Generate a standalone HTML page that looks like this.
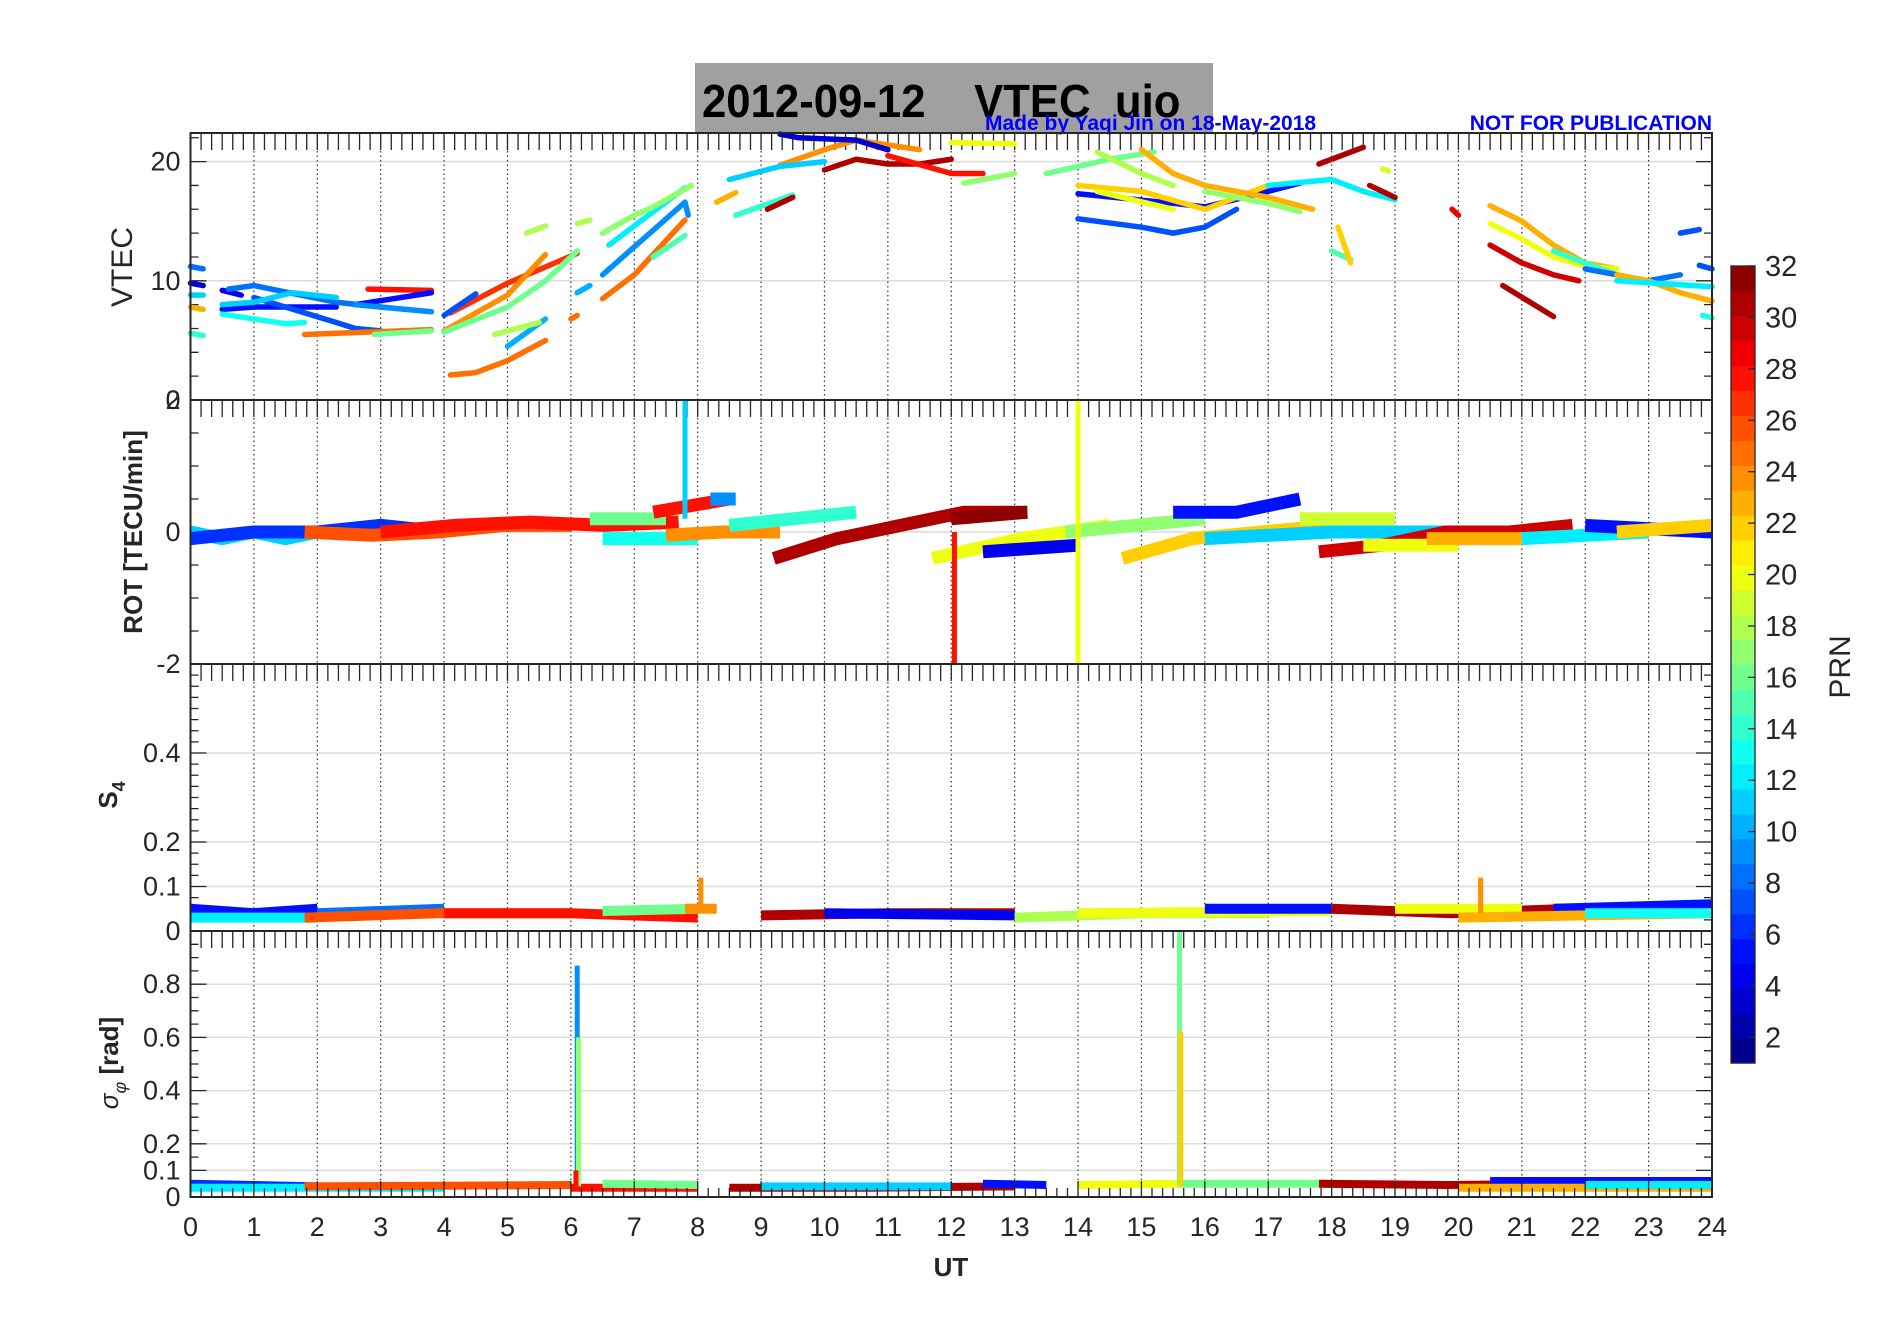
<!DOCTYPE html>
<html><head><meta charset="utf-8"><style>
html,body{margin:0;padding:0;background:#fff;}
svg{display:block;font-family:"Liberation Sans",Arial,sans-serif;}
</style></head><body>
<svg id="fig" width="1902" height="1330" viewBox="0 0 1902 1330" xmlns="http://www.w3.org/2000/svg">
<rect x="0" y="0" width="1902" height="1330" fill="#fff"/>
<rect x="695" y="63" width="518" height="70" fill="#a0a0a0"/>
<text x="702" y="117" font-size="46" font-weight="bold" fill="#000" style="white-space:pre" transform="translate(702,0) scale(0.95,1) translate(-702,0)">2012-09-12    VTEC  uio</text>
<text x="985" y="130" font-size="21" font-weight="bold" fill="#0000ff">Made by Yaqi Jin on 18-May-2018</text>
<text x="1712" y="130" font-size="21" font-weight="bold" fill="#0000ff" text-anchor="end">NOT FOR PUBLICATION</text>
<g id="plots"></g>
</svg>
<script>
// ---------- data ----------
const hourTicks=[0,1,2,3,4,5,6,7,8,9,10,11,12,13,14,15,16,17,18,19,20,21,22,23,24];
const vtecTicks=[0,10,20];
const rotTicks=[-2,0,2];
const s4Ticks=[0,0.1,0.2,0.4];
const sigTicks=[0,0.1,0.2,0.4,0.6,0.8];
const cbTicks=[2,4,6,8,10,12,14,16,18,20,22,24,26,28,30,32];
// VTEC segments: [prn, [[hour,value],...]]
const vtecSeries=[
[8,[[0,11.2],[0.2,11]]],[3,[[0,9.8],[0.2,9.6]]],[11,[[0,8.8],[0.2,8.8]]],[23,[[0,7.8],[0.2,7.6]]],[14,[[0,5.6],[0.2,5.4]]],
[4,[[0.5,9.2],[0.8,8.8]]],[5,[[0.5,7.6],[1,7.8],[2.3,7.8]]],[8,[[0.6,9.3],[1,9.6],[2.3,8.2],[3,7.8]]],
[7,[[1,8.6],[2.3,6.5],[2.6,6.0],[3,5.8]]],[11,[[0.5,8],[1,8.2],[1.6,9],[2.3,8.6]]],[13,[[0.5,7.2],[1,6.8],[1.5,6.4],[1.8,6.5]]],
[25,[[1.8,5.5],[3.8,5.9]]],[16,[[2.9,5.5],[3.8,5.8]]],[28,[[2.8,9.3],[3.8,9.2]]],[5,[[2.6,8],[3.8,9]]],[9,[[2.6,8],[3.8,7.4]]],
[27,[[4.1,7.3],[5,9.8],[6.1,12.3]]],[24,[[4,5.8],[5,8.8],[5.6,12.2]]],[16,[[4,5.7],[5,7.8],[5.6,10],[6.1,12.5]]],[7,[[4,7.1],[4.5,8.9]]],
[25,[[4.1,2.1],[4.5,2.3],[5,3.3],[5.6,5]]],[25,[[6,6.8],[6.1,7.1]]],[25,[[6.5,8.5],[7,10.5],[7.8,15.1]]],
[9,[[6.5,10.5],[7.8,16.6],[7.85,15.5]]],[12,[[6.6,13],[7.8,17.8]]],[17,[[6.5,14],[7,15.5],[7.3,16.2],[7.9,18]]],[15,[[7.3,12],[7.8,13.8]]],
[18,[[5.3,14],[5.6,14.6]]],[18,[[6.1,14.8],[6.3,15.1]]],[10,[[5,4.5],[5.6,6.8]]],[10,[[6.1,9],[6.3,9.6]]],[18,[[4.8,5.5],[5.5,6.5]]],
[23,[[8.3,16.6],[8.6,17.4]]],[14,[[8.6,15.5],[9.5,17.2]]],[24,[[9.3,19.7],[10,21],[10.5,21.8],[11,21.4],[11.5,21]]],
[11,[[8.5,18.5],[9.3,19.6],[10,20]]],[31,[[10,19.3],[10.5,20.2],[11,19.8],[11.5,19.8],[12,20.2]]],[28,[[11,20.5],[12,19],[12.5,19]]],
[3,[[9.3,22.3],[9.6,22],[10.5,21.8],[11,21]]],[31,[[9.1,16],[9.5,17]]],[20,[[12,21.6],[13,21.5]]],[17,[[12.2,18.2],[13,19]]],
[16,[[13.5,19],[14.5,20.2],[15.2,20.8]]],[18,[[14.3,20.8],[15,19],[15.5,18]]],[5,[[14,17.3],[15.5,16.5],[16,16.2],[17,17.5],[17.5,18.2]]],
[7,[[14,15.2],[15,14.5],[15.5,14],[16,14.5],[16.5,16]]],[22,[[14,18],[15,17.5],[16,16],[17,18]]],[20,[[14.3,17.5],[15.5,16]]],
[23,[[15,21],[15.5,19],[16,18],[17,17],[17.7,16]]],[17,[[16,17.5],[17,16.5],[17.5,15.8]]],[12,[[17,18],[18,18.5],[18.5,17.5],[19,16.8]]],
[31,[[17.8,19.8],[18.5,21.2]]],[31,[[18.6,18],[19,17]]],[15,[[18,12.5],[18.3,11.8]]],[22,[[18.1,14.5],[18.3,11.5]]],[19,[[18.8,19.4],[18.9,19.2]]],
[29,[[19.9,16],[20,15.5]]],[23,[[20.5,16.3],[21,15],[21.5,13],[22,11.5],[22.5,11]]],[20,[[20.5,14.8],[21,13.5],[21.5,12],[22,11.2],[22.5,11]]],
[14,[[21.5,12.5],[22,11.5],[22.5,10.5]]],[30,[[20.5,13],[21,11.5],[21.5,10.5],[21.9,10]]],[31,[[20.7,9.6],[21.5,7]]],
[8,[[22,11],[22.5,10.5],[23,10],[23.5,10.5]]],[23,[[22.5,10.5],[23,10],[23.5,9],[24,8.3]]],[12,[[22.5,10],[24,9.5]]],
[7,[[23.5,14],[23.8,14.3]]],[7,[[23.8,11.3],[24,11]]],[13,[[23.85,7.1],[24,6.9]]]
];
// ROT bands: [prn, start hour, end hour, values evenly spaced]
const rotBands=[
[11,0,2,[0,-0.1,0,-0.1,0]],[6,0,4,[-0.1,0,0,0.1,0]],[26,1.8,6,[0,-0.05,0,0.1,0.1]],[28,3,7.7,[0,0.1,0.15,0.1,0.15]],
[16,6.3,7.5,[0.2,0.2]],[13,6.5,8,[-0.1,-0.1]],[24,7.5,9.3,[-0.05,0,0]],[28,7.3,8.5,[0.3,0.4,0.5]],[9,8.2,8.6,[0.5,0.5]],
[14,8.5,10.5,[0.1,0.2,0.3]],[31,9.2,13.2,[-0.4,-0.1,0.1,0.3,0.3]],[32,12,13.2,[0.2,0.3]],[20,11.7,14.5,[-0.4,-0.1,0.1]],
[4,12.5,14,[-0.3,-0.2]],[17,13.8,16,[0,0.1,0.2]],[22,14.7,18,[-0.4,-0.1,0,0.1]],[5,15.5,17.5,[0.3,0.3,0.5]],
[19,17.5,19,[0.2,0.2]],[11,16,20,[-0.1,0,0]],[30,17.8,21.8,[-0.3,-0.2,0,0,0.1]],[20,18.5,20,[-0.2,-0.2]],
[23,19.5,21,[-0.1,-0.1]],[12,21,23,[-0.1,0]],[5,22,24,[0.1,0]],[22,22.5,24,[0,0.1]]
];
const rotSpikes=[[11,7.8,0.2,2],[28,12.05,0,-2],[20,14.0,2,-2]];
const s4Bands=[
[5,0,2,[0.05,0.04,0.05]],[12,0,2,[0.03,0.03]],[8,2,4,[0.04,0.05]],[26,1.8,6,[0.03,0.04,0.04]],[28,4,8,[0.04,0.04,0.03]],
[16,6.5,8,[0.045,0.05]],[24,7.8,8.3,[0.05,0.05]],[31,9,13,[0.035,0.04,0.04]],[4,10,13,[0.04,0.035]],[18,13,17,[0.03,0.04,0.04]],
[20,14,18,[0.04,0.045]],[5,16,18,[0.05,0.05]],[31,18,21.8,[0.05,0.04,0.05]],[20,19,21,[0.05,0.05]],[5,21.5,24,[0.05,0.06]],
[23,20,24,[0.03,0.035,0.04]],[13,22,24,[0.04,0.04]]
];
const s4Spikes=[[24,8.05,0.04,0.12],[24,20.35,0.04,0.12]];
const sigBands=[
[6,0,2,[0.05,0.04]],[12,0,4,[0.035,0.035]],[26,1.8,6,[0.04,0.045]],[28,6,8,[0.035,0.035]],[16,6.5,8,[0.05,0.045]],
[31,8.5,13,[0.035,0.035,0.04]],[11,9,12,[0.04,0.04]],[5,12.5,13.5,[0.05,0.045]],[20,14,15.6,[0.045,0.05]],
[16,15.6,18,[0.05,0.05]],[31,17.8,21.8,[0.05,0.045,0.05]],[5,20.5,24,[0.06,0.06,0.06]],[23,20,24,[0.035,0.035]],[12,22,24,[0.045,0.045]]
];
const sigSpikes=[[9,6.1,0.04,0.87],[17,6.12,0.04,0.6],[28,6.08,0.03,0.1],[16,15.6,0.04,1.0],[22,15.62,0.04,0.62]];
</script>
<script>
const NS="http://www.w3.org/2000/svg";
const G=document.getElementById('plots');
const XL=190.5, XR=1712;
function X(h){return XL+h*(XR-XL)/24;}
function jet(p){
  const t=(Math.round(p)-0.5)/32;
  const r=Math.max(0,Math.min(1,1.5-Math.abs(4*t-3)));
  const g=Math.max(0,Math.min(1,1.5-Math.abs(4*t-2)));
  const b=Math.max(0,Math.min(1,1.5-Math.abs(4*t-1)));
  return `rgb(${Math.round(r*255)},${Math.round(g*255)},${Math.round(b*255)})`;
}
function el(tag,attrs,parent){const e=document.createElementNS(NS,tag);for(const k in attrs)e.setAttribute(k,attrs[k]);(parent||G).appendChild(e);return e;}
const panels=[
 {name:'vtec',top:133,bot:400,min:0,max:22.4,ticks:vtecTicks},
 {name:'rot',top:400,bot:664,min:-2,max:2,ticks:rotTicks},
 {name:'s4',top:664,bot:931,min:0,max:0.6,ticks:s4Ticks},
 {name:'sigma',top:931,bot:1197,min:0,max:1.0,ticks:sigTicks}
];
function Yf(p){return v=>p.bot-(v-p.min)/(p.max-p.min)*(p.bot-p.top);}
panels.forEach((p,i)=>{
  const Y=Yf(p);
  const g=el('g',{});
  
  
  p.ticks.forEach(v=>{
    if(v===p.min||v===p.max) return;
    const l=el('line',{x1:XL,x2:XR,y1:Y(v),y2:Y(v),stroke:'#dcdcdc','stroke-width':1.5},g);
    
    
  });
  hourTicks.forEach(h=>{
    if(h===0||h===24) return;
    const l=el('line',{x1:X(h),x2:X(h),y1:p.top,y2:p.bot,stroke:'#333','stroke-width':1.2,'stroke-dasharray':'1.5,3'},g);
    
    
  });
  let d='';
  for(let k=0;k<=144;k++){const x=X(k/6);d+=`M${x},${p.top}v17 `;}
  const tk=el('path',{d:d,stroke:'#262626','stroke-width':1.3},g);
  
  
  let dy='';
  p.ticks.forEach(v=>{dy+=`M${XL},${Y(v)}h16 M${XR},${Y(v)}h-16 `;});
  const step=(p.max-p.min)/ (p.name==='rot'?8:(p.name==='vtec'?11.2:(p.name==='s4'?24:20)));
  for(let v=p.min;v<=p.max+1e-9;v+=step){dy+=`M${XL},${Y(v)}h8 M${XR},${Y(v)}h-8 `;}
  const yt=el('path',{d:dy,stroke:'#262626','stroke-width':1.3},g);
  
  
  p.ticks.forEach(v=>{
    const t=el('text',{x:XL-10,y:Y(v)+9,'font-size':27,'text-anchor':'end',fill:'#262626'},g);
    t.textContent=String(v);
    
    
  });
});
function ytitle(txt,x,y,size,bold,name){
  const t=el('text',{x:0,y:0,'font-size':size,'font-weight':bold?'bold':'normal','text-anchor':'middle',fill:'#262626',transform:`translate(${x},${y}) rotate(-90)`});
  t.textContent=txt;
  
  
  return t;
}
ytitle('VTEC',132,267,30,false,'vtec-axis-title');
ytitle('ROT [TECU/min]',142,532,26,true,'rot-axis-title');
const s4t=ytitle('S',117,795,26,true,'s4-axis-title');
const sub=el('tspan',{'font-size':18,dy:8},s4t);sub.textContent='4';
const sgt=ytitle('',118,1063,26,true,'sigma-axis-title');
const a=el('tspan',{'font-weight':'normal','font-style':'italic'},sgt);a.textContent='σ';
const b=el('tspan',{'font-size':18,dy:8,'font-weight':'normal','font-style':'italic'},sgt);b.textContent='φ';
const c=el('tspan',{dy:-8},sgt);c.textContent=' [rad]';

const pv=panels[0],Yv=Yf(pv);
vtecSeries.forEach(s=>{
  const pts=s[1].map(q=>X(q[0])+','+Yv(q[1])).join(' ');
  const l=el('polyline',{points:pts,fill:'none',stroke:jet(s[0]),'stroke-width':5.5,'stroke-linecap':'round','stroke-linejoin':'round'});
  
  
});
function bands(p,arr,w,name){
  const Y=Yf(p);
  arr.forEach(s=>{
    const [prn,t0,t1,vals]=s;const n=vals.length;
    const pts=vals.map((v,k)=>X(n===1?t0:t0+(t1-t0)*k/(n-1))+','+Y(v)).join(' ');
    const l=el('polyline',{points:pts,fill:'none',stroke:jet(prn),'stroke-width':w,'stroke-linejoin':'round'});
    
    
  });
}
function spikes(p,arr,w,name){
  const Y=Yf(p);
  arr.forEach(s=>{
    const l=el('line',{x1:X(s[1]),x2:X(s[1]),y1:Y(s[2]),y2:Y(s[3]),stroke:jet(s[0]),'stroke-width':w});
    
    
  });
}
bands(panels[1],rotBands,13,'rot');spikes(panels[1],rotSpikes,5,'rot');
bands(panels[2],s4Bands,10,'s4');spikes(panels[2],s4Spikes,5,'s4');
bands(panels[3],sigBands,8,'sigma');spikes(panels[3],sigSpikes,5,'sigma');
panels.forEach(p=>{
  const r=el('rect',{x:XL,y:p.top,width:XR-XL,height:p.bot-p.top,fill:'none',stroke:'#262626','stroke-width':2});
  
  
});
const bot=panels[3].bot;
let dx='';
for(let k=0;k<=144;k++){dx+=`M${X(k/6)},${bot}v-${k%6===0?16:9} `;}
const xt=el('path',{d:dx,stroke:'#262626','stroke-width':1.3});


hourTicks.forEach(h=>{
  const t=el('text',{x:X(h),y:1236,'font-size':27,'text-anchor':'middle',fill:'#262626'});
  t.textContent=String(h);
  
  
});
const ut=el('text',{x:951,y:1276,'font-size':26,'font-weight':'bold','text-anchor':'middle',fill:'#262626'});
ut.textContent='UT';


const cbX=1731,cbW=24,cbT=266,cbB=1063;
const cb=el('g',{});


const cy=v=>cbB-(v-1)/31*(cbB-cbT);
for(let k=1;k<=32;k++){
  const y0=cbB-(k)*(cbB-cbT)/32, h=(cbB-cbT)/32;
  el('rect',{x:cbX,y:y0,width:cbW,height:h+0.6,fill:jet(k)},cb);
}
el('rect',{x:cbX,y:cbT,width:cbW,height:cbB-cbT,fill:'none',stroke:'#262626','stroke-width':1.3},cb);
cbTicks.forEach(v=>{
  el('line',{x1:cbX+cbW-7,x2:cbX+cbW,y1:cy(v),y2:cy(v),stroke:'#262626','stroke-width':1.3},cb);
  const t=el('text',{x:cbX+cbW+10,y:cy(v)+10,'font-size':29,fill:'#262626'},cb);
  t.textContent=String(v);
  
  
});
const prn=el('text',{x:0,y:0,'font-size':30,'text-anchor':'middle',fill:'#262626',transform:'translate(1850,667) rotate(-90)'});
prn.textContent='PRN';


</script>
</body></html>
